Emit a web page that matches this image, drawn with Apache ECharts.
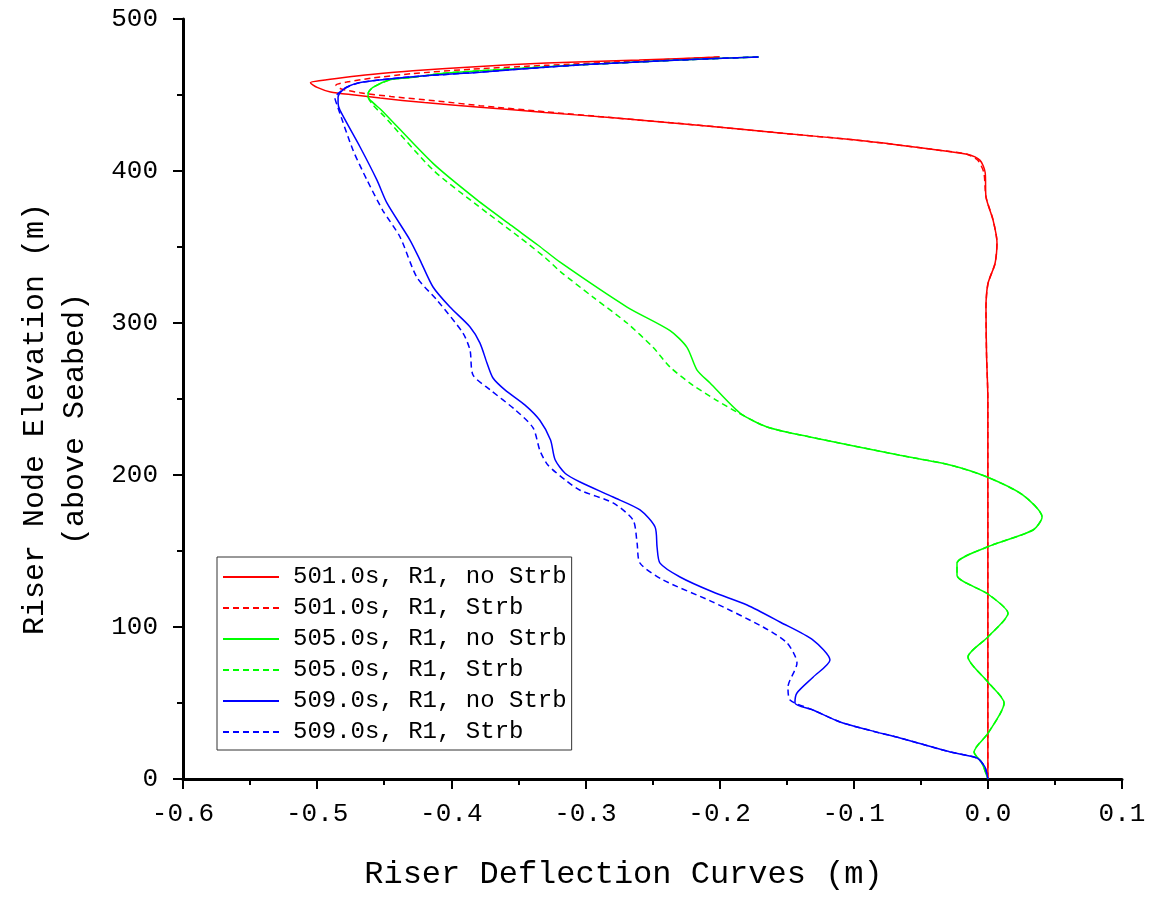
<!DOCTYPE html>
<html>
<head>
<meta charset="utf-8">
<script src="https://cdn.jsdelivr.net/npm/echarts@6/dist/echarts.min.js"></script>
<style>
  html, body { margin: 0; padding: 0; background: #fff; }
  #chart { width: 1150px; height: 897px; }
</style>
</head>
<body>
<div id="chart"></div>
<script>
// deflection (m), elevation (m) pairs
const red501Solid = [
  [-0.200, 475], [-0.260, 473], [-0.329, 471], [-0.385, 468.5], [-0.4285, 466], [-0.460, 463.5],
  [-0.480, 461.5], [-0.497, 459.5], [-0.505, 458], [-0.500, 455], [-0.490, 452], [-0.472, 450],
  [-0.453, 448], [-0.420, 445], [-0.3786, 442], [-0.330, 438.5], [-0.2794, 435], [-0.220, 430.5],
  [-0.155, 425], [-0.100, 420.5], [-0.0655, 417], [-0.035, 413.5], [-0.0155, 411], [-0.0058, 407],
  [-0.002, 399], [-0.0014, 383], [0.0038, 368], [0.0068, 353], [0.0053, 339], [0.0001, 326],
  [-0.0014, 310], [-0.001, 280], [0, 250], [0, 200], [0, 100], [0, 0]
];
const red501Strb = [
  [-0.200, 475], [-0.260, 472.5], [-0.330, 469.5], [-0.385, 467], [-0.430, 464], [-0.460, 461],
  [-0.478, 458.5], [-0.486, 456.5], [-0.482, 454], [-0.468, 451.5], [-0.445, 449], [-0.410, 446],
  [-0.3786, 443], [-0.330, 439], [-0.2794, 435], [-0.220, 430.5], [-0.155, 425], [-0.100, 420.5],
  [-0.0655, 417], [-0.035, 413.5], [-0.0155, 411], [-0.0075, 407], [-0.003, 399], [-0.0014, 383],
  [0.0038, 368], [0.0068, 353], [0.0053, 339], [0.0001, 326], [-0.0014, 310], [-0.001, 280],
  [0, 250], [0, 200], [0, 100], [0, 0]
];
const green505Solid = [
  [-0.171, 475], [-0.230, 473], [-0.300, 470], [-0.350, 467.5], [-0.4032, 464.5], [-0.430, 461.5],
  [-0.4457, 460], [-0.4584, 455], [-0.462, 451], [-0.462, 448.7], [-0.4584, 445], [-0.452, 440],
  [-0.4136, 405], [-0.3808, 381], [-0.355, 364], [-0.335, 351], [-0.3189, 340], [-0.269, 310.5],
  [-0.2369, 295], [-0.2243, 284], [-0.2168, 269], [-0.2071, 260.5], [-0.1848, 240.8], [-0.1646, 231.6],
  [-0.1326, 225], [-0.0655, 213], [-0.0282, 206.6], [-0.0006, 198.7], [0.0262, 186.8], [0.0404, 172.4],
  [0.0337, 163.8], [-0.0006, 152.6], [-0.023, 142], [-0.023, 134], [0, 121.7], [0.015, 109],
  [0, 93.4], [-0.0148, 80.3], [0, 63.8], [0.0121, 50], [0, 30], [-0.0103, 17.8], [-0.0044, 10.5], [0, 0]
];
const green505Strb = [
  [-0.171, 475], [-0.230, 473], [-0.300, 470], [-0.350, 467.5], [-0.4032, 464.5], [-0.430, 461.5],
  [-0.4457, 460], [-0.4584, 455], [-0.462, 451], [-0.462, 448.7], [-0.458, 443], [-0.450, 436],
  [-0.4136, 400.7], [-0.380, 377], [-0.350, 357], [-0.330, 343], [-0.3189, 334], [-0.2943, 317],
  [-0.269, 300], [-0.2496, 284], [-0.2369, 271], [-0.2198, 259], [-0.2019, 249], [-0.187, 241.4],
  [-0.1646, 231.6], [-0.1326, 225], [-0.0655, 213], [-0.0282, 206.6], [-0.0006, 198.7], [0.0262, 186.8],
  [0.0404, 172.4], [0.0337, 163.8], [-0.0006, 152.6], [-0.023, 142], [-0.023, 134], [0, 121.7],
  [0.015, 109], [0, 93.4], [-0.0148, 80.3], [0, 63.8], [0.0121, 50], [0, 30], [-0.0103, 17.8],
  [-0.0044, 10.5], [0, 0]
];
const blue509Solid = [
  [-0.171, 475], [-0.230, 473], [-0.300, 470], [-0.350, 467], [-0.3786, 465], [-0.4285, 462],
  [-0.4658, 458.5], [-0.479, 454.6], [-0.4844, 448.7], [-0.4844, 444.7], [-0.483, 440], [-0.468, 415.8],
  [-0.4554, 394], [-0.448, 379], [-0.4308, 354.6], [-0.4233, 341.4], [-0.4136, 323.7], [-0.401, 310.5],
  [-0.386, 297.4], [-0.3786, 286.8], [-0.3734, 273.7], [-0.3689, 263.8], [-0.360, 256], [-0.345, 246],
  [-0.334, 236], [-0.326, 223], [-0.3226, 210], [-0.315, 201], [-0.304, 195.4], [-0.2794, 185.5],
  [-0.2593, 177], [-0.2481, 165.8], [-0.2466, 152.6], [-0.2444, 142], [-0.2295, 132.9], [-0.2049, 123],
  [-0.1795, 114.5], [-0.155, 103.3], [-0.1303, 91.4], [-0.1177, 78.3], [-0.1303, 67], [-0.1423, 56.6],
  [-0.1438, 50], [-0.1303, 45.4], [-0.1102, 37.5], [-0.0879, 32], [-0.0655, 27], [-0.0282, 17.8],
  [-0.0081, 13.8], [-0.0022, 7.9], [0, 0]
];
const blue509Strb = [
  [-0.171, 475], [-0.230, 473], [-0.300, 470], [-0.350, 467], [-0.3786, 465], [-0.4285, 462],
  [-0.4658, 458.5], [-0.479, 454.6], [-0.4867, 448], [-0.485, 443], [-0.4733, 413.8], [-0.4628, 394],
  [-0.451, 374], [-0.4382, 356.6], [-0.4256, 330], [-0.4106, 315], [-0.3913, 293.4], [-0.386, 282],
  [-0.3838, 265.8], [-0.371, 256], [-0.3525, 243], [-0.339, 231], [-0.3339, 216], [-0.328, 206.6],
  [-0.315, 196.7], [-0.304, 190], [-0.2794, 181.6], [-0.2645, 170.4], [-0.2615, 155.3], [-0.2593, 142],
  [-0.2422, 131], [-0.2049, 116.4], [-0.1676, 100], [-0.1497, 89.5], [-0.1423, 76.3], [-0.149, 60.5],
  [-0.1475, 52], [-0.1303, 45.4], [-0.1102, 37.5], [-0.0879, 32], [-0.0655, 27], [-0.0282, 17.8],
  [-0.0081, 13.8], [-0.0022, 7.9], [0, 0]
];

const seriesNames = [
  '501.0s, R1, no Strb', '501.0s, R1, Strb',
  '505.0s, R1, no Strb', '505.0s, R1, Strb',
  '509.0s, R1, no Strb', '509.0s, R1, Strb'
];
const seriesData = [red501Solid, red501Strb, green505Solid, green505Strb, blue509Solid, blue509Strb];
const seriesColors = ['#ff0000', '#ff0000', '#00ff00', '#00ff00', '#0000ff', '#0000ff'];

const FONT = 'Liberation Mono';

let chart = echarts.init(document.getElementById('chart'));

chart.setOption({
  animation: false,
  backgroundColor: '#fff',
  grid: {
    left: 183,
    right: 28,
    top: 19,
    bottom: 118,
    outerBoundsMode: 'none'
  },
  legend: {
    orient: 'vertical',
    left: 217,
    top: 557,
    padding: [8, 5, 6, 5],
    itemGap: 7,
    itemWidth: 56,
    itemHeight: 14,
    borderColor: '#333',
    borderWidth: 1,
    backgroundColor: '#fff',
    // hide the symbol that line series put in the legend icon
    itemStyle: {
      color: 'rgba(0,0,0,0)',
      borderColor: 'rgba(0,0,0,0)',
      borderWidth: 0
    },
    textStyle: {
      fontFamily: FONT,
      fontSize: 24,
      lineHeight: 24,
      color: '#000',
      padding: [0, 0, 0, 9]
    },
    data: seriesNames
  },
  xAxis: {
    type: 'value',
    min: -0.6,
    max: 0.1,
    interval: 0.1,
    name: 'Riser Deflection Curves (m)',
    nameLocation: 'middle',
    nameGap: 80,
    nameTextStyle: {
      fontFamily: FONT,
      fontSize: 32,
      lineHeight: 32,
      color: '#000',
      padding: [0, 58, 0, 0]
    },
    axisLine: { show: true, onZero: false, lineStyle: { color: '#000', width: 3 } },
    axisTick: { show: true, length: 10, lineStyle: { color: '#000', width: 2 } },
    minorTick: { show: true, splitNumber: 2, length: 6, lineStyle: { color: '#000', width: 2 } },
    splitLine: { show: false },
    axisLabel: {
      fontFamily: FONT,
      fontSize: 26,
      color: '#000',
      margin: 22,
      formatter: function (v) {
        return Math.abs(v) < 1e-9 ? '0.0' : v.toFixed(1);
      }
    }
  },
  yAxis: {
    type: 'value',
    min: 0,
    max: 500,
    interval: 100,
    name: 'Riser Node Elevation (m)\n(above Seabed)',
    nameLocation: 'middle',
    nameRotate: 90,
    nameGap: 88,
    nameTextStyle: {
      fontFamily: FONT,
      fontSize: 30,
      lineHeight: 40,
      color: '#000',
      align: 'center',
      padding: [0, 40, 0, 0]
    },
    axisLine: { show: true, onZero: false, lineStyle: { color: '#000', width: 3 } },
    axisTick: { show: true, length: 10, lineStyle: { color: '#000', width: 2 } },
    minorTick: { show: true, splitNumber: 2, length: 6, lineStyle: { color: '#000', width: 2 } },
    splitLine: { show: false },
    axisLabel: {
      fontFamily: FONT,
      fontSize: 26,
      color: '#000',
      margin: 25
    }
  },
  series: seriesData.map(function (d, i) {
    return {
      name: seriesNames[i],
      type: 'line',
      data: d,
      symbol: 'none',
      showSymbol: false,
      smooth: 0.25,
      clip: false,
      color: seriesColors[i],
      lineStyle: {
        color: seriesColors[i],
        width: 1.5,
        type: i % 2 === 1 ? [6, 4] : 'solid'
      }
    };
  })
});
</script>
</body>
</html>
